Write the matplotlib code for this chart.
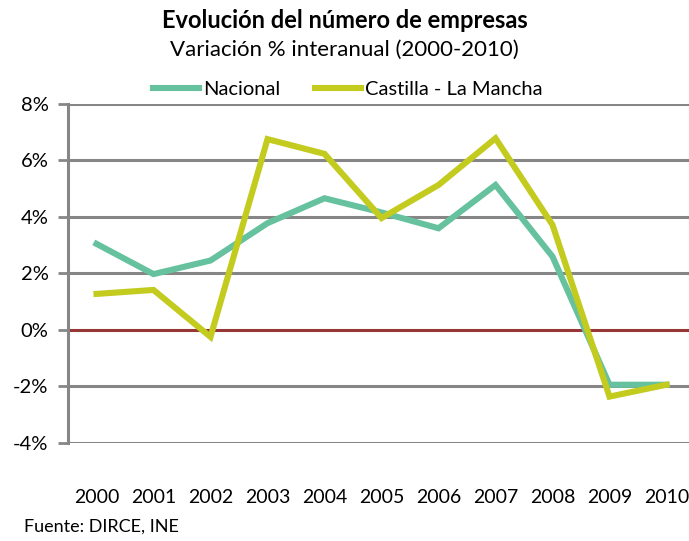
import matplotlib.pyplot as plt
from matplotlib.ticker import FuncFormatter

years = ['2000', '2001', '2002', '2003', '2004', '2005', '2006', '2007', '2008', '2009', '2010']
nacional = [3.04, 1.97, 2.45, 3.77, 4.65, 4.15, 3.59, 5.12, 2.59, -1.94, -1.94]
castilla = [1.27, 1.41, -0.25, 6.74, 6.22, 3.95, 5.12, 6.77, 3.71, -2.36, -1.94]
y_ticks = [-4, -2, 0, 2, 4, 6, 8]

plt.rcParams['font.family'] = ['Lato', 'DejaVu Sans']

fig = plt.figure(figsize=(6.89, 5.41), dpi=100)
ax = fig.add_axes([68 / 689, 1 - 443 / 541, 627 / 689, 339.5 / 541])

x = list(range(len(years)))
for v in y_ticks:
    if v == 0:
        continue
    ax.axhline(v, color='#868686', lw=2.2, zorder=1)
ax.axhline(0, color='#953735', lw=2.2, zorder=1)

ax.plot(x, nacional, color='#66C29E', lw=4.4, label='Nacional', zorder=3,
        solid_joinstyle='miter')
ax.plot(x, castilla, color='#C3CB1F', lw=4.4, label='Castilla - La Mancha', zorder=4,
        solid_joinstyle='miter')

ax.set_xlim(-0.5, len(years) - 0.5)
ax.set_ylim(-4, 8)
ax.set_yticks(y_ticks)
ax.yaxis.set_major_formatter(FuncFormatter(lambda v, p: f'{v:.0f}%'))
ax.set_xticks(x)
ax.set_xticklabels(years)
ax.tick_params(axis='x', length=0, pad=33, labelsize=14)
ax.tick_params(axis='y', length=7, width=2, color='#868686', pad=7, labelsize=14.5)

for s in ['top', 'right', 'bottom']:
    ax.spines[s].set_visible(False)
ax.spines['left'].set_color('#868686')
ax.spines['left'].set_linewidth(2.2)

fig.text(0.5, 1 - 21 / 541, 'Evolución del número de empresas', ha='center', va='center',
         fontsize=17, fontweight='bold')
fig.text(0.5, 1 - 50 / 541, 'Variación % interanual (2000-2010)', ha='center', va='center',
         fontsize=16)
fig.legend(loc='center', bbox_to_anchor=(348 / 689, 1 - 89 / 541), ncol=2, frameon=False,
           fontsize=14.5, handlelength=2.3, handletextpad=0.2, columnspacing=1.7,
           borderaxespad=0)
fig.text(24 / 689, 1 - 527 / 541, 'Fuente: DIRCE, INE', ha='left', va='center', fontsize=13)

fig.savefig('out.png', dpi=100)
